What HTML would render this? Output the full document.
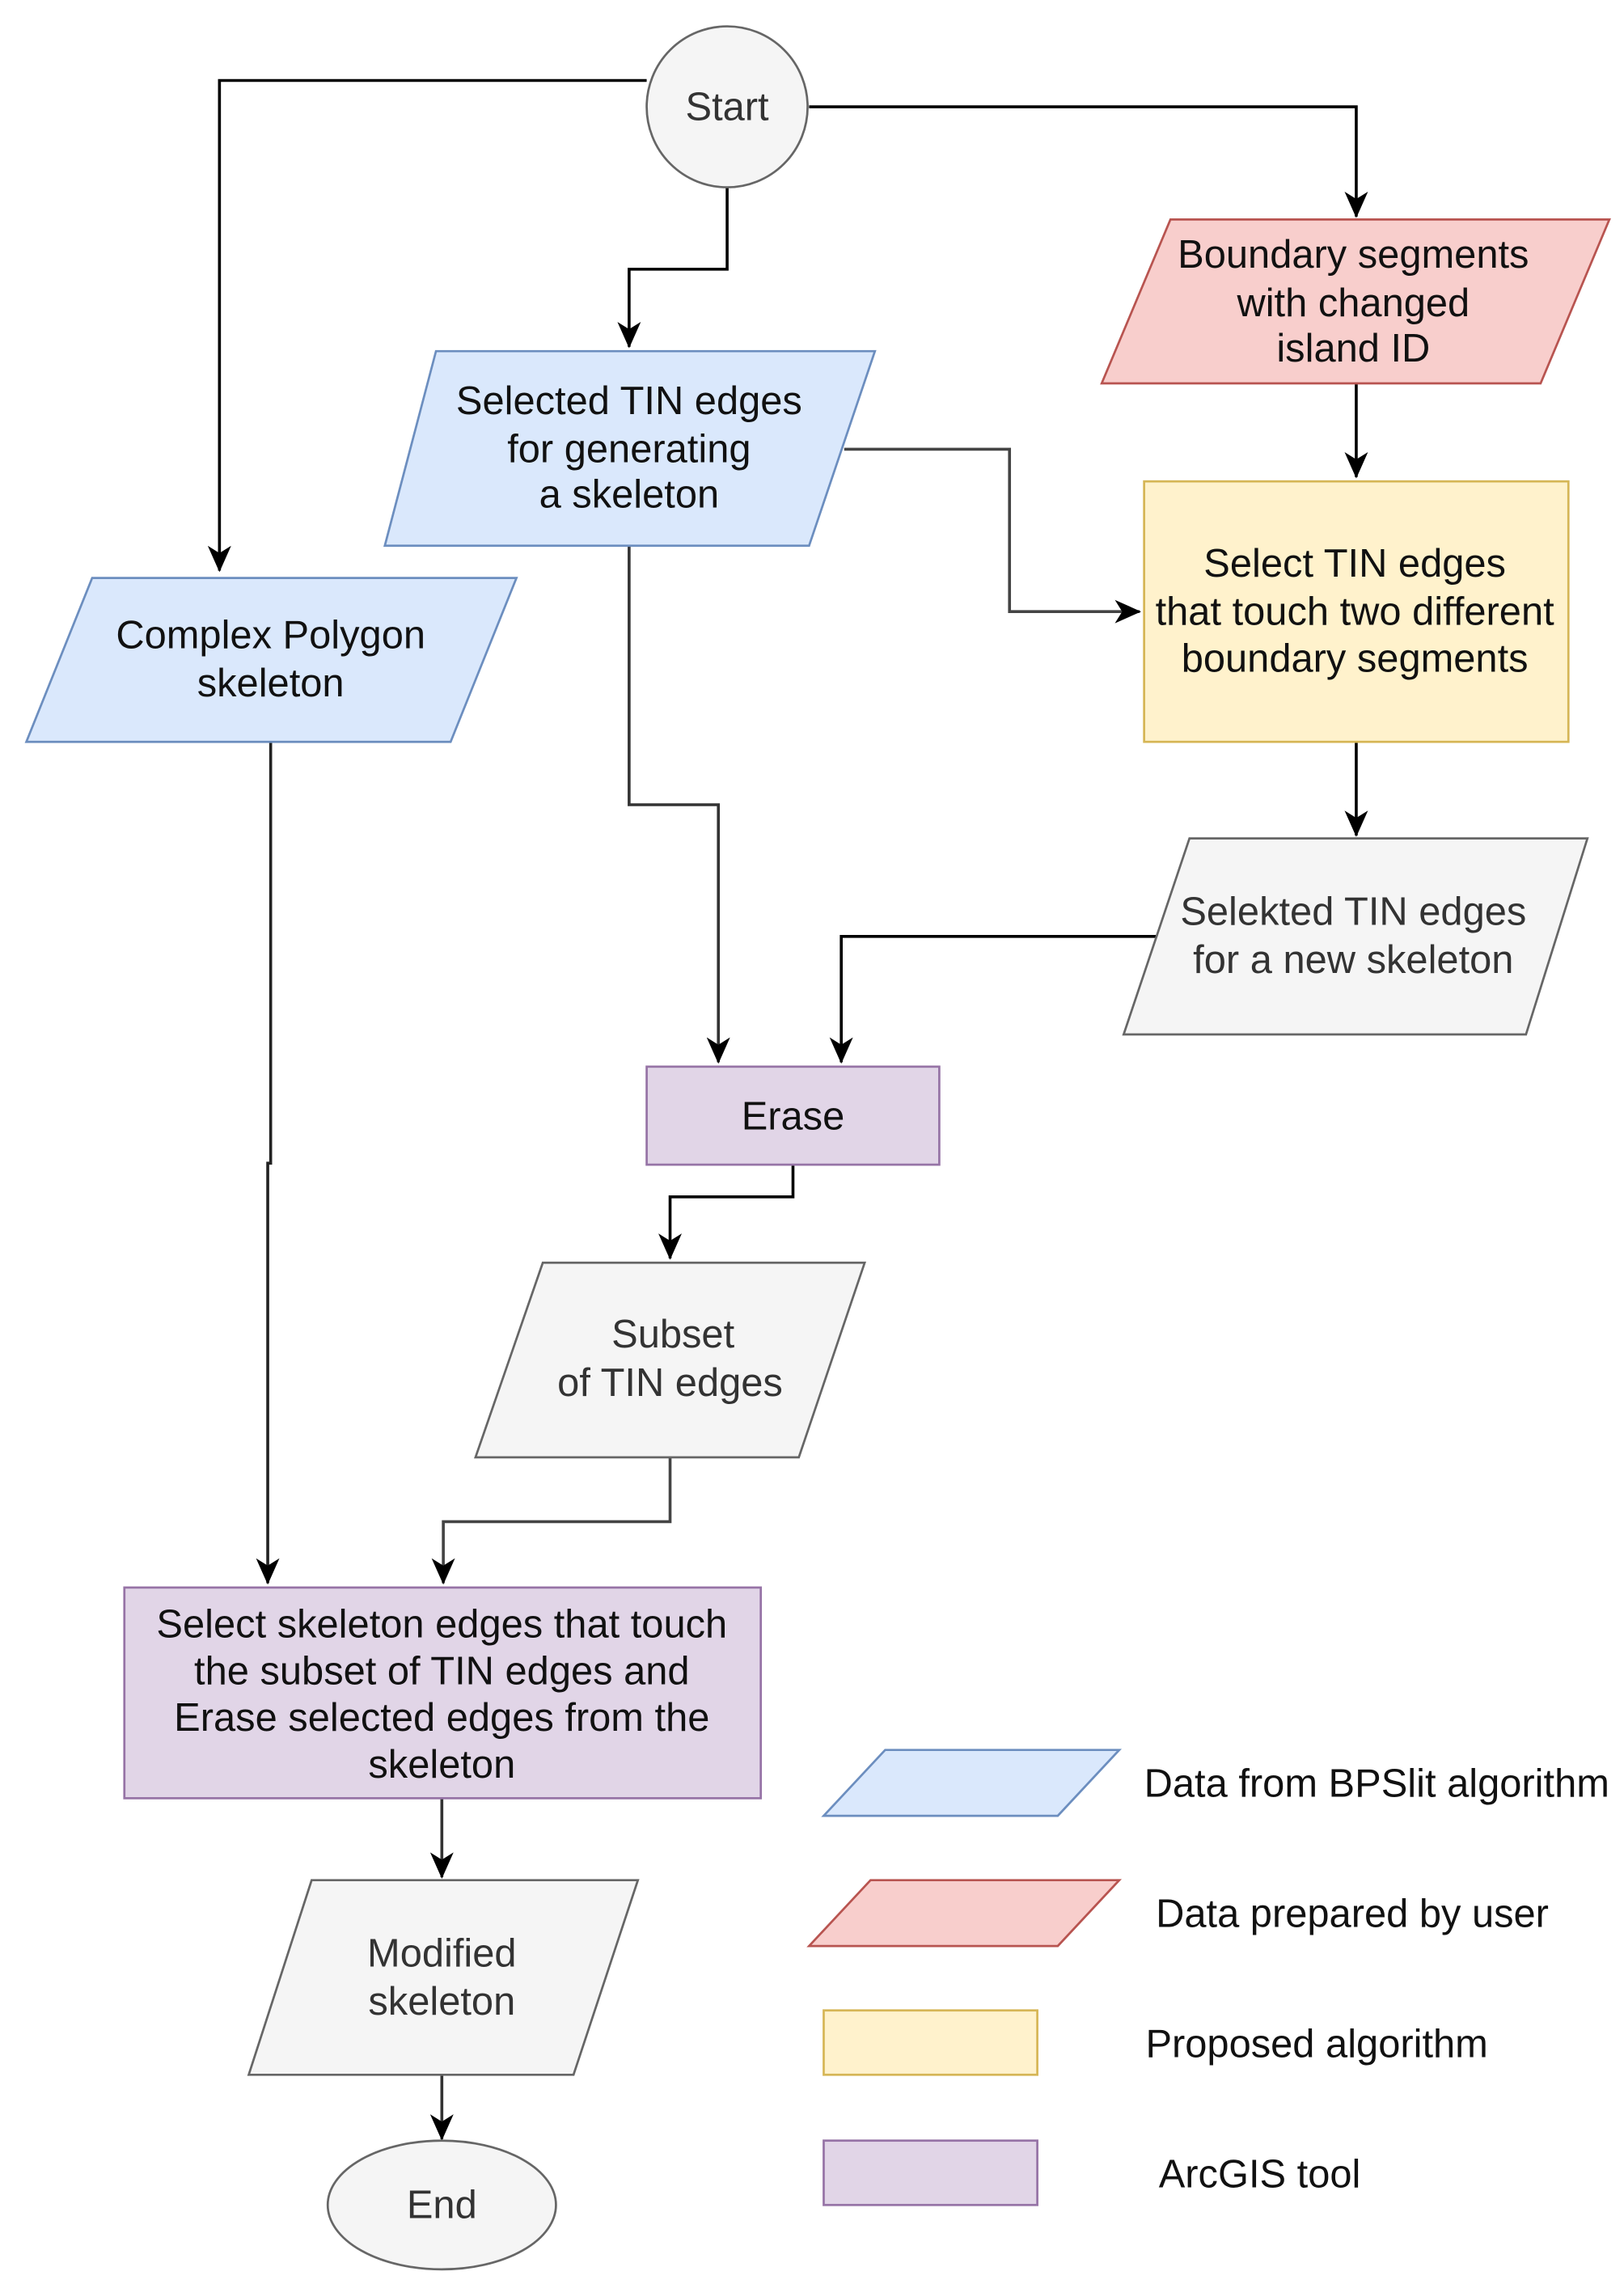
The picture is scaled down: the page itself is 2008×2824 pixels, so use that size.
<!DOCTYPE html>
<html><head><meta charset="utf-8"><style>
html,body{margin:0;padding:0;background:#fff;}
svg{display:block;}
text{font-family:"Liberation Sans",sans-serif;font-size:27px;text-anchor:middle;fill:#111;}
.g text,text.g{fill:#333;}
.l{text-anchor:start;}
</style></head><body>
<svg width="2008" height="2824" viewBox="0 0 1110 1561" preserveAspectRatio="none" xmlns="http://www.w3.org/2000/svg">
<defs>
<marker id="b" markerWidth="18" markerHeight="16" refX="17" refY="8" orient="auto" markerUnits="userSpaceOnUse" viewBox="0 0 18 16">
<path d="M0,0 L18,8 L0,16 L5,8 z" fill="#000"/></marker>
</defs>
<g fill="none" stroke="#000" stroke-width="2">
<polyline points="442,55 150,55 150,390" marker-end="url(#b)"/>
<polyline points="553,73 927,73 927,148" marker-end="url(#b)"/>
<polyline points="497,128 497,184 430,184 430,237" marker-end="url(#b)"/>
<polyline points="927,262 927,326" marker-end="url(#b)"/>
<polyline points="577,307 690,307 690,418 779,418" stroke="#444" marker-end="url(#b)"/>
<polyline points="185,507 185,795 183,795 183,1082" stroke="#222" marker-end="url(#b)"/>
<polyline points="430,373 430,550 491,550 491,726" stroke="#333" marker-end="url(#b)"/>
<polyline points="927,507 927,571" marker-end="url(#b)"/>
<polyline points="790,640 575,640 575,726" marker-end="url(#b)"/>
<polyline points="542,796 542,818 458,818 458,860" marker-end="url(#b)"/>
<polyline points="458,996 458,1040 303,1040 303,1082" stroke="#444" marker-end="url(#b)"/>
<polyline points="302,1229 302,1283" stroke="#333" marker-end="url(#b)"/>
<polyline points="302,1418 302,1462" stroke="#333" marker-end="url(#b)"/>
</g>
<ellipse cx="497" cy="73" rx="55" ry="55" fill="#f5f5f5" stroke="#666" stroke-width="1.5"/>
<text x="497" y="82" class="g">Start</text>

<polygon points="800,150 1100,150 1053,262 753,262" fill="#f8cecc" stroke="#b85450" stroke-width="1.5"/>
<text x="925" y="183">Boundary segments</text>
<text x="925" y="216">with changed</text>
<text x="925" y="247">island ID</text>

<rect x="782" y="329" width="290" height="178" fill="#fff2cc" stroke="#d6b656" stroke-width="1.5"/>
<text x="926" y="394">Select TIN edges</text>
<text x="926" y="427">that touch two different</text>
<text x="926" y="459">boundary segments</text>

<polygon points="298,240 598,240 553,373 263,373" fill="#dae8fc" stroke="#6c8ebf" stroke-width="1.5"/>
<text x="430" y="283">Selected  TIN edges</text>
<text x="430" y="316">for generating</text>
<text x="430" y="347">a skeleton</text>

<polygon points="63,395 353,395 308,507 18,507" fill="#dae8fc" stroke="#6c8ebf" stroke-width="1.5"/>
<text x="185" y="443">Complex Polygon</text>
<text x="185" y="476">skeleton</text>

<polygon points="813,573 1085,573 1043,707 768,707" fill="#f5f5f5" stroke="#666" stroke-width="1.5"/>
<text x="925" y="632" class="g">Selekted TIN edges</text>
<text x="925" y="665" class="g">for a new skeleton</text>

<rect x="442" y="729" width="200" height="67" fill="#e1d5e7" stroke="#9673a6" stroke-width="1.5"/>
<text x="542" y="772">Erase</text>

<polygon points="371,863 591,863 546,996 325,996" fill="#f5f5f5" stroke="#666" stroke-width="1.5"/>
<text x="460" y="921" class="g">Subset</text>
<text x="458" y="954" class="g">of TIN edges</text>

<rect x="85" y="1085" width="435" height="144" fill="#e1d5e7" stroke="#9673a6" stroke-width="1.5"/>
<text x="302" y="1119">Select skeleton edges that touch</text>
<text x="302" y="1151">the subset of TIN edges and</text>
<text x="302" y="1183">Erase selected edges from the</text>
<text x="302" y="1215">skeleton</text>

<polygon points="213,1285 436,1285 392,1418 170,1418" fill="#f5f5f5" stroke="#666" stroke-width="1.5"/>
<text x="302" y="1344" class="g">Modified</text>
<text x="302" y="1377" class="g">skeleton</text>

<ellipse cx="302" cy="1507" rx="78" ry="44" fill="#f5f5f5" stroke="#666" stroke-width="1.5"/>
<text x="302" y="1516" class="g">End</text>

<polygon points="605,1196 765,1196 723,1241 563,1241" fill="#dae8fc" stroke="#6c8ebf" stroke-width="1.5"/>
<text x="782" y="1228" class="l">Data from BPSlit algorithm</text>
<polygon points="595,1285 765,1285 723,1330 553,1330" fill="#f8cecc" stroke="#b85450" stroke-width="1.5"/>
<text x="790" y="1317" class="l">Data prepared by user</text>
<rect x="563" y="1374" width="146" height="44" fill="#fff2cc" stroke="#d6b656" stroke-width="1.5"/>
<text x="783" y="1406" class="l">Proposed algorithm</text>
<rect x="563" y="1463" width="146" height="44" fill="#e1d5e7" stroke="#9673a6" stroke-width="1.5"/>
<text x="792" y="1495" class="l">ArcGIS tool</text>
</svg>
</body></html>
